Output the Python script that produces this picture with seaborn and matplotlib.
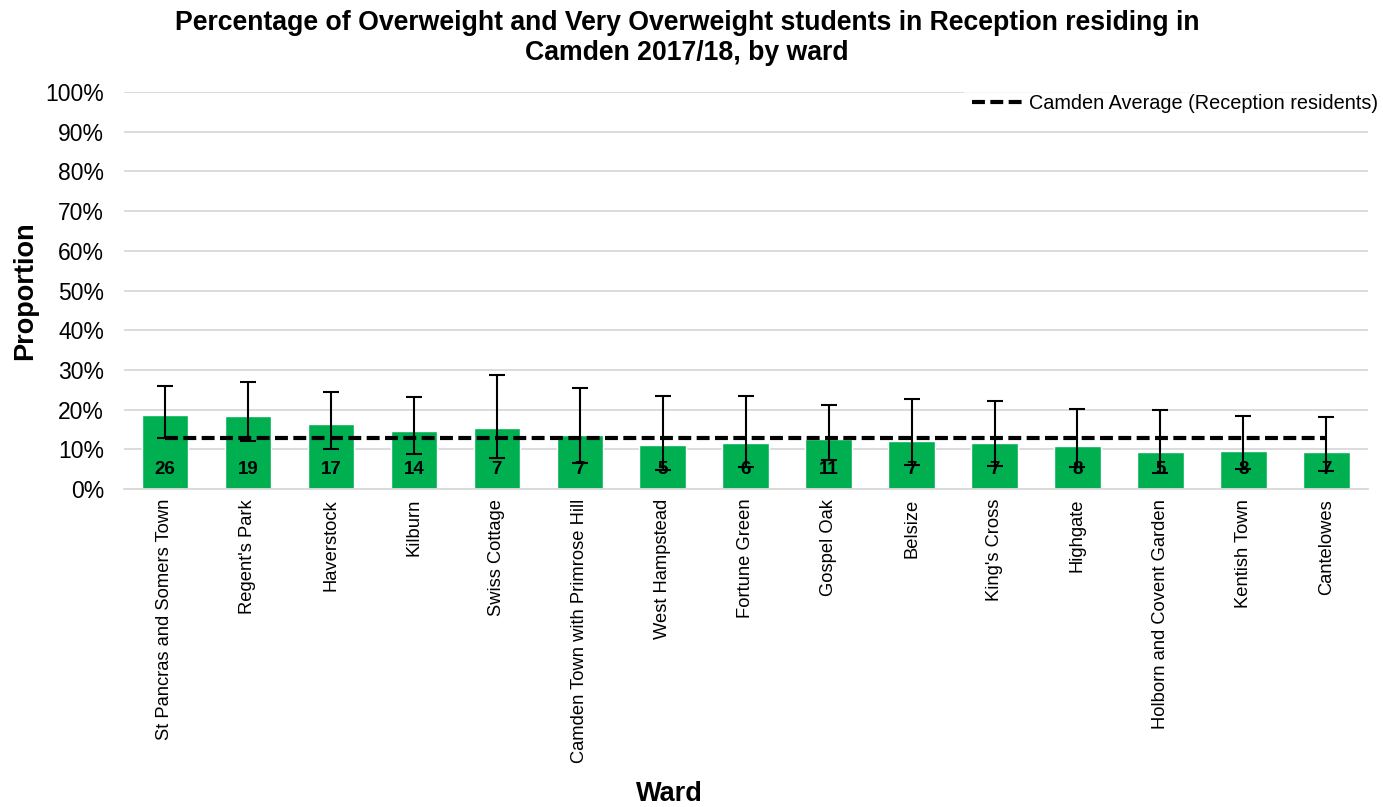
import numpy as np
import pandas as pd
import matplotlib
matplotlib.use("Agg")
import matplotlib.pyplot as plt
import seaborn as sns
from matplotlib.ticker import PercentFormatter

# Data
wards = ["St Pancras and Somers Town", "Regent's Park", "Haverstock", "Kilburn",
         "Swiss Cottage", "Camden Town with Primrose Hill", "West Hampstead",
         "Fortune Green", "Gospel Oak", "Belsize", "King's Cross", "Highgate",
         "Holborn and Covent Garden", "Kentish Town", "Cantelowes"]
proportion = [18.6, 18.4, 16.3, 14.6, 15.5, 13.5, 11.1, 11.7, 12.5, 12.1, 11.7, 10.8, 9.3, 9.7, 9.3]
ci_lower = [12.8, 12.2, 10.2, 8.9, 7.7, 6.6, 4.8, 5.5, 7.2, 6.0, 5.8, 5.6, 4.0, 5.0, 4.6]
ci_upper = [26.0, 27.0, 24.4, 23.3, 28.8, 25.4, 23.5, 23.5, 21.2, 22.7, 22.1, 20.2, 20.0, 18.5, 18.1]
counts = [26, 19, 17, 14, 7, 7, 5, 6, 11, 7, 7, 8, 5, 8, 7]
camden_avg = 12.8

df = pd.DataFrame({"Ward": wards, "Proportion": proportion,
                   "lo": ci_lower, "hi": ci_upper, "n": counts})

sns.set_style("white")
plt.rcParams['font.family'] = ['Liberation Sans', 'DejaVu Sans']
plt.rcParams['text.color'] = 'black'
plt.rcParams['axes.labelcolor'] = 'black'
plt.rcParams['xtick.color'] = 'black'
plt.rcParams['ytick.color'] = 'black'

fig, ax = plt.subplots(figsize=(13.83, 8.07), dpi=100)
fig.subplots_adjust(left=0.0893, right=0.989, top=0.886, bottom=0.394)

sns.barplot(data=df, x="Ward", y="Proportion", color="#00B050", width=0.56,
            saturation=1, ax=ax, zorder=2)

x = np.arange(len(df))
err = [df["Proportion"] - df["lo"], df["hi"] - df["Proportion"]]
ax.errorbar(x, df["Proportion"], yerr=err, fmt="none", ecolor="black",
            elinewidth=1.5, capsize=6, capthick=1.5, zorder=4)

ax.plot([x[0], x[-1]], [camden_avg, camden_avg], color="black", lw=3,
        ls=(0, (3.1, 1.3)), zorder=3, label="Camden Average (Reception residents)")

for xi, n in zip(x, df["n"]):
    ax.text(xi, 4.9, str(n), ha="center", va="center", fontsize=13.5,
            fontweight="bold", zorder=5)

ax.set_ylim(0, 100)
ax.set_xlim(-0.5, len(df) - 0.5)
ax.set_yticks(np.arange(0, 101, 10))
ax.yaxis.set_major_formatter(PercentFormatter(decimals=0))
ax.grid(axis="y", color="#d9d9d9", lw=1.3, zorder=0)
ax.set_axisbelow(True)
for s in ["top", "right", "left"]:
    ax.spines[s].set_visible(False)
ax.spines["bottom"].set_color("#d9d9d9")
ax.spines["bottom"].set_linewidth(1.3)

ax.tick_params(axis="y", labelsize=16.5, length=0, pad=14)
ax.tick_params(axis="x", labelsize=13.2, length=0, pad=7)
plt.setp(ax.get_xticklabels(), rotation=90)

ax.set_xlabel("Ward", fontsize=19.5, fontweight="bold")
ax.xaxis.set_label_coords(0.439, -0.735)
ax.set_ylabel("Proportion", fontsize=19.5, fontweight="bold")
ax.yaxis.set_label_coords(-0.0686, 0.5)
ax.set_title("Percentage of Overweight and Very Overweight students in Reception residing in\nCamden 2017/18, by ward",
             fontsize=19.2, fontweight="bold", x=0.453, pad=23)

leg = ax.legend(loc="upper right", bbox_to_anchor=(1.015, 1.015), frameon=True,
                fontsize=14.3, handlelength=2.6, handletextpad=0.3, borderaxespad=0)
leg.get_frame().set_facecolor("white")
leg.get_frame().set_edgecolor("white")

fig.savefig("out.png", dpi=100)
